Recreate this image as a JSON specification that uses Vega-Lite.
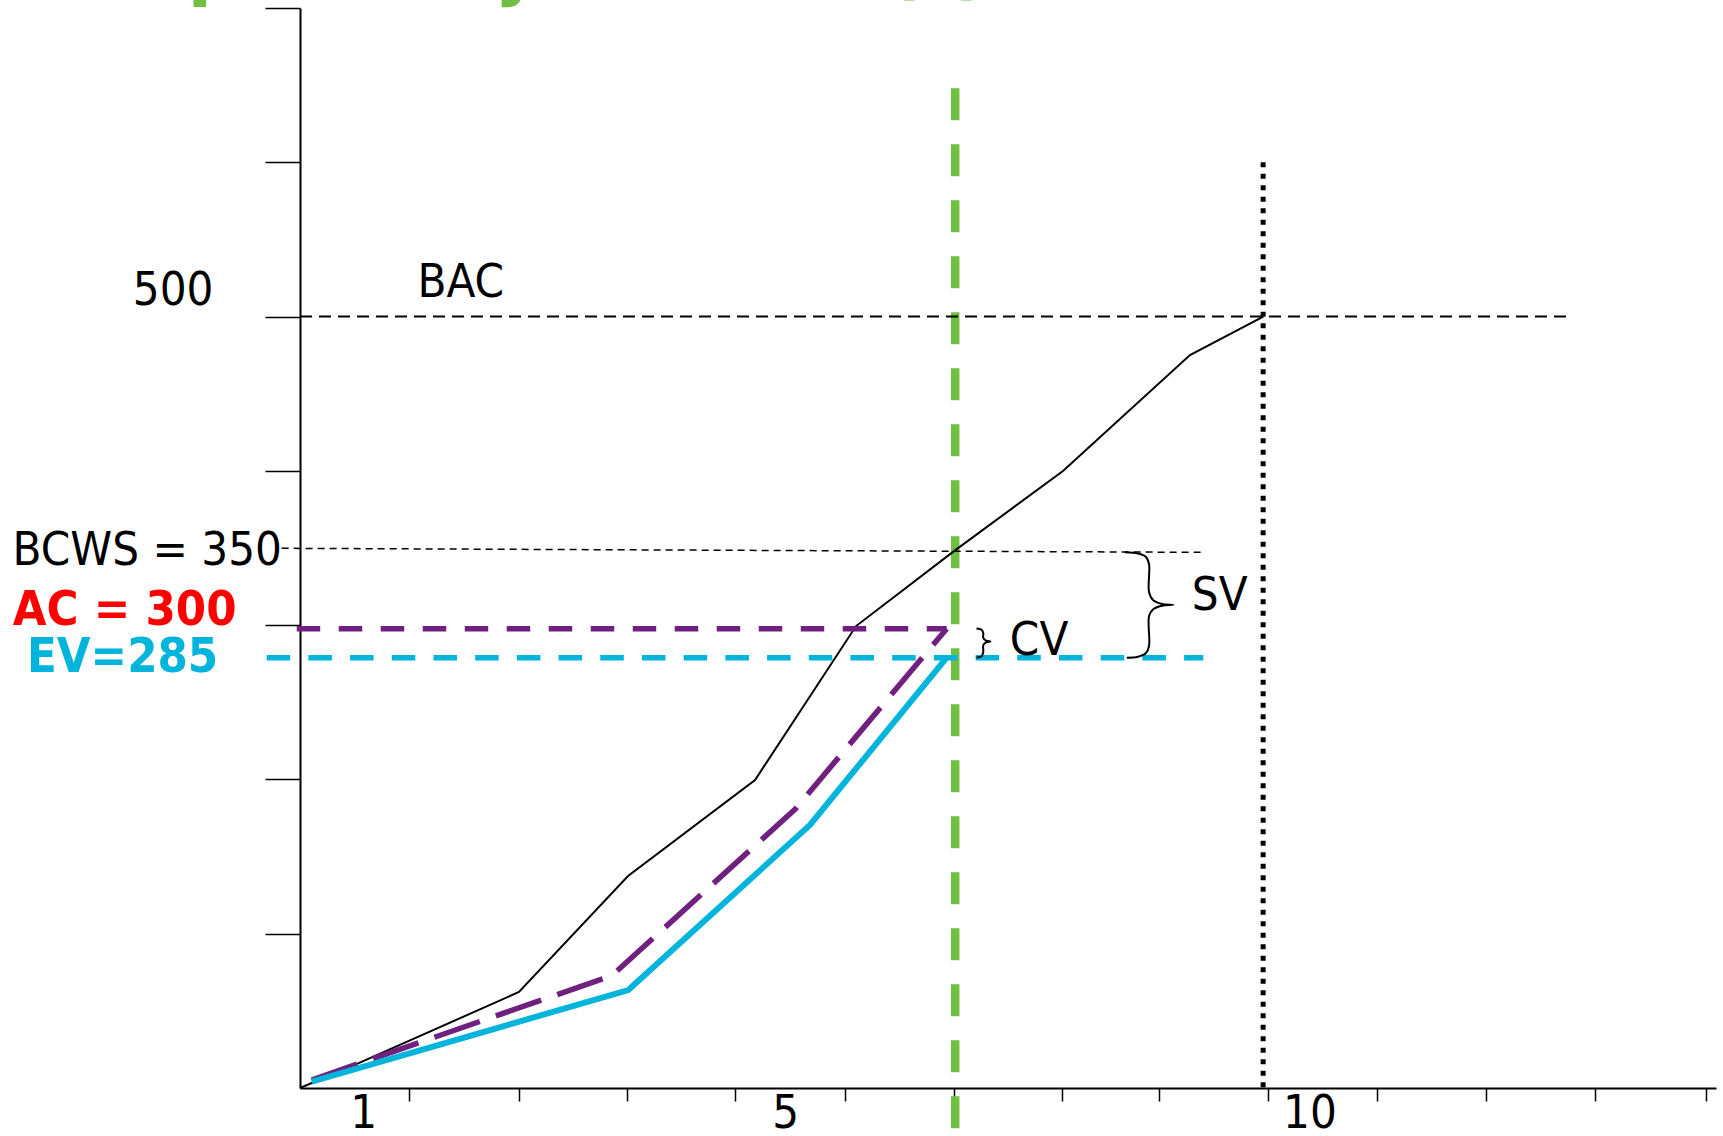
{
  "$schema": "https://vega.github.io/schema/vega-lite/v6.json",
  "width": 1416,
  "height": 1080,
  "autosize": {"type": "none"},
  "padding": {"left": 300, "top": 8, "right": 7, "bottom": 48},
  "background": "white",
  "config": {
    "view": {"stroke": null},
    "font": "DejaVu Sans Condensed, DejaVu Sans",
    "text": {"font": "DejaVu Sans Condensed, DejaVu Sans"}
  },
  "datasets": {
    "green": [{"x": 6, "y": 648, "y2": -31}],
    "dotted": [{"x": 8.82, "y": 600, "y2": 0}],
    "bac": [{"x": 0, "x2": 11.64, "y": 500}],
    "bcws": [{"x": -0.168, "y": 349.8}, {"x": 8.256, "y": 347.2}],
    "pv": [
      {"x": 0, "y": 0},
      {"x": 0.522, "y": 15.6},
      {"x": 2.005, "y": 62.2},
      {"x": 3.004, "y": 137.4},
      {"x": 4.167, "y": 199.6},
      {"x": 5.092, "y": 299.4},
      {"x": 5.989, "y": 348.0},
      {"x": 6.987, "y": 399.9},
      {"x": 8.15, "y": 475.1},
      {"x": 8.821, "y": 499.9}
    ],
    "acLevel": [{"x": -0.03, "x2": 5.922, "y": 297.7}],
    "ac": [
      {"x": 0.107, "y": 5.2},
      {"x": 2.857, "y": 72.9},
      {"x": 4.533, "y": 180.6},
      {"x": 5.922, "y": 297.7}
    ],
    "ev": [
      {"x": 0.107, "y": 4.1},
      {"x": 3.006, "y": 63.5},
      {"x": 4.67, "y": 170.5},
      {"x": 5.922, "y": 278.9}
    ],
    "evLevel": [{"x": -0.305, "x2": 8.272, "y": 278.9}],
    "braces": [
      {"brace": "SV", "i": 0, "x": 7.555, "y": 347.2},
      {"brace": "SV", "i": 1, "x": 7.674, "y": 346.4},
      {"brace": "SV", "i": 2, "x": 7.747, "y": 344.2},
      {"brace": "SV", "i": 3, "x": 7.775, "y": 339.6},
      {"brace": "SV", "i": 4, "x": 7.775, "y": 321.5},
      {"brace": "SV", "i": 5, "x": 7.811, "y": 316.3},
      {"brace": "SV", "i": 6, "x": 7.894, "y": 313.7},
      {"brace": "SV", "i": 7, "x": 7.995, "y": 313.2},
      {"brace": "SV", "i": 8, "x": 7.894, "y": 312.6},
      {"brace": "SV", "i": 9, "x": 7.811, "y": 310.2},
      {"brace": "SV", "i": 10, "x": 7.775, "y": 305.9},
      {"brace": "SV", "i": 11, "x": 7.775, "y": 286.5},
      {"brace": "SV", "i": 12, "x": 7.747, "y": 281.9},
      {"brace": "SV", "i": 13, "x": 7.674, "y": 279.5},
      {"brace": "SV", "i": 14, "x": 7.571, "y": 278.9},
      {"brace": "CV", "i": 0, "x": 6.195, "y": 297.8},
      {"brace": "CV", "i": 1, "x": 6.241, "y": 297.0},
      {"brace": "CV", "i": 2, "x": 6.257, "y": 294.9},
      {"brace": "CV", "i": 3, "x": 6.257, "y": 291.7},
      {"brace": "CV", "i": 4, "x": 6.282, "y": 289.9},
      {"brace": "CV", "i": 5, "x": 6.323, "y": 289.4},
      {"brace": "CV", "i": 6, "x": 6.282, "y": 288.9},
      {"brace": "CV", "i": 7, "x": 6.257, "y": 287.1},
      {"brace": "CV", "i": 8, "x": 6.257, "y": 282.6},
      {"brace": "CV", "i": 9, "x": 6.241, "y": 279.9},
      {"brace": "CV", "i": 10, "x": 6.195, "y": 279.0}
    ],
    "centerText": [
      {"label": "BAC", "x": 1.472, "y": 512.9},
      {"label": "CV", "x": 6.768, "y": 280.6},
      {"label": "SV", "x": 8.422, "y": 309.8},
      {"label": "1", "x": 0.583, "y": -26.2},
      {"label": "5", "x": 4.448, "y": -26.2},
      {"label": "10", "x": 9.249, "y": -26.2}
    ],
    "rightText": [{"label": "BCWS = 350", "x": -0.165, "y": 339.0}],
    "boldText": [
      {"label": "AC = 300", "x": -2.631, "y": 300.1, "color": "#ff0000"},
      {"label": "EV=285", "x": -2.5, "y": 269.8, "color": "#00b4dc"}
    ],
    "title": [{"label": "Example: Project data (t)", "x": -3.037, "y": 711.6}]
  },
  "encoding": {
    "x": {
      "field": "x",
      "type": "quantitative",
      "scale": {"domain": [0, 12.967], "nice": false, "zero": false},
      "axis": {
        "title": null,
        "grid": false,
        "values": [1.0, 2.001, 2.995, 3.988, 4.989, 5.991, 6.978, 7.869, 8.86, 9.861, 10.861, 11.862, 12.874],
        "labels": false,
        "tickSize": 13,
        "tickColor": "black",
        "tickWidth": 1.5,
        "domainColor": "black",
        "domainWidth": 2
      }
    },
    "y": {
      "field": "y",
      "type": "quantitative",
      "scale": {"domain": [0, 700], "nice": false, "zero": false},
      "axis": {
        "title": null,
        "grid": false,
        "values": [100, 200, 300, 400, 500, 600, 700],
        "labelExpr": "datum.value == 500 ? '500' : ''",
        "labelOverlap": false,
        "labelFont": "DejaVu Sans Condensed, DejaVu Sans",
        "labelFontSize": 47,
        "labelColor": "black",
        "labelPadding": 52,
        "labelBaseline": "alphabetic",
        "labelOffset": -12,
        "tickSize": 35,
        "tickColor": "black",
        "tickWidth": 1.5,
        "domainColor": "black",
        "domainWidth": 2
      }
    }
  },
  "layer": [
    {
      "data": {"name": "title"},
      "mark": {"type": "text", "align": "left", "baseline": "alphabetic", "fontSize": 80, "fontWeight": "bold", "color": "#70bf44"},
      "encoding": {"text": {"field": "label"}}
    },
    {
      "data": {"name": "green"},
      "mark": {"type": "rule", "color": "#70bf44", "strokeWidth": 8.5, "strokeDash": [32, 24]},
      "encoding": {"y2": {"field": "y2"}}
    },
    {
      "data": {"name": "dotted"},
      "mark": {"type": "rule", "color": "black", "strokeWidth": 5, "strokeDash": [5, 6.5]},
      "encoding": {"y2": {"field": "y2"}}
    },
    {
      "data": {"name": "bac"},
      "mark": {"type": "rule", "color": "black", "strokeWidth": 2, "strokeDash": [12, 7]},
      "encoding": {"x2": {"field": "x2"}}
    },
    {
      "data": {"name": "bcws"},
      "mark": {"type": "line", "color": "black", "strokeWidth": 1.5, "strokeDash": [7, 5]},
      "encoding": {}
    },
    {
      "data": {"name": "pv"},
      "mark": {"type": "line", "color": "black", "strokeWidth": 2},
      "encoding": {}
    },
    {
      "data": {"name": "acLevel"},
      "mark": {"type": "rule", "color": "#70207e", "strokeWidth": 5.5, "strokeDash": [23.5, 18.5]},
      "encoding": {"x2": {"field": "x2"}}
    },
    {
      "data": {"name": "ac"},
      "mark": {"type": "line", "color": "#70207e", "strokeWidth": 5.5, "strokeDash": [48, 17]},
      "encoding": {}
    },
    {
      "data": {"name": "ev"},
      "mark": {"type": "line", "color": "#00b4dc", "strokeWidth": 6},
      "encoding": {}
    },
    {
      "data": {"name": "evLevel"},
      "mark": {"type": "rule", "color": "#00b4dc", "strokeWidth": 5.5, "strokeDash": [23.5, 18.2]},
      "encoding": {"x2": {"field": "x2"}}
    },
    {
      "data": {"name": "braces"},
      "mark": {"type": "line", "color": "black", "strokeWidth": 2, "interpolate": "catmull-rom"},
      "encoding": {"detail": {"field": "brace"}, "order": {"field": "i", "type": "quantitative"}}
    },
    {
      "data": {"name": "centerText"},
      "mark": {"type": "text", "align": "center", "baseline": "alphabetic", "fontSize": 47, "color": "black"},
      "encoding": {"text": {"field": "label"}}
    },
    {
      "data": {"name": "rightText"},
      "mark": {"type": "text", "align": "right", "baseline": "alphabetic", "fontSize": 47, "color": "black"},
      "encoding": {"text": {"field": "label"}}
    },
    {
      "data": {"name": "boldText"},
      "mark": {"type": "text", "align": "left", "baseline": "alphabetic", "fontSize": 48.5, "fontWeight": "bold"},
      "encoding": {"text": {"field": "label"}, "color": {"field": "color", "type": "nominal", "scale": null}}
    }
  ]
}
